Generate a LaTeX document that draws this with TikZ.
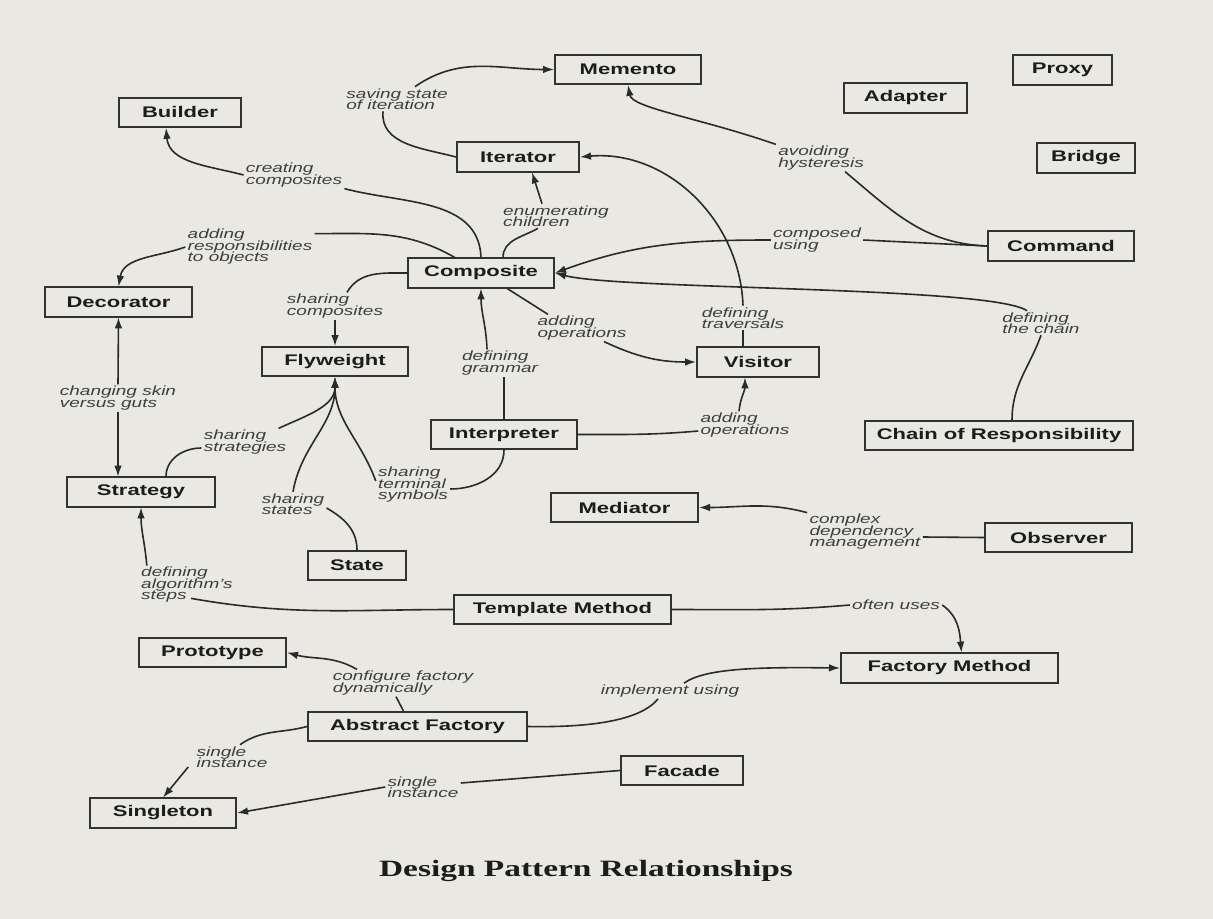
\documentclass[tikz,border=0pt]{standalone}
\usepackage{fontspec}
\usepackage{xcolor}
\usepackage{tikz}
\setmainfont{Liberation Sans}
\newfontfamily\titlefont{Liberation Serif}
\usetikzlibrary{arrows.meta,positioning,calc}

\definecolor{paper}{RGB}{233,232,227}
\definecolor{ink}{RGB}{28,28,28}
\definecolor{boxline}{RGB}{50,50,50}
\definecolor{linkline}{RGB}{42,42,42}
\definecolor{labink}{RGB}{62,62,62}

\tikzset{
  patbox/.style={draw=boxline, line width=1pt, minimum width=72.5pt, minimum height=21pt,
    inner sep=0pt, text=ink, font=\fontsize{11}{13}\selectfont\bfseries,
    yscale=0.7, transform shape},
  rellabel/.style={text=labink, align=left, inner sep=1pt,
    font=\fontsize{9.5}{8.2}\selectfont\itshape,
    execute at begin node={\lineskiplimit=-20pt},
    yscale=0.7, transform shape},
  conn/.style={draw=linkline, line width=0.8pt},
  connarrow/.style={conn, -{Latex[length=5.5pt,width=3.8pt]}},
}

\begin{document}
\begin{tikzpicture}[x=0.5pt, y=-0.5pt]
    % Paper
    \fill[paper] (0,0) rectangle (1213,919);

    % Pattern boxes
    \node[patbox, minimum width=73pt] (memento) at (628,69.5) {Memento};
    \node[patbox, minimum width=49.5pt] (proxy) at (1062.5,70) {Proxy};
    \node[patbox, minimum width=61.5pt] (adapter) at (905.5,98) {Adapter};
    \node[patbox, minimum width=61pt] (builder) at (180,112.5) {Builder};
    \node[patbox, minimum width=61pt] (iterator) at (518,157) {Iterator};
    \node[patbox, minimum width=49pt] (bridge) at (1086,158) {Bridge};
    \node[patbox, minimum width=73pt] (command) at (1061,246) {Command};
    \node[patbox, minimum width=73pt] (composite) at (481,273) {Composite};
    \node[patbox, minimum width=73.5pt] (decorator) at (118.5,302) {Decorator};
    \node[patbox, minimum width=73pt] (flyweight) at (335,361.5) {Flyweight};
    \node[patbox, minimum width=61pt] (visitor) at (758,362) {Visitor};
    \node[patbox, minimum width=73pt] (interpreter) at (504,434.5) {Interpreter};
    \node[patbox, minimum width=134pt] (chain) at (999,435.5) {Chain of Responsibility};
    \node[patbox, minimum width=74pt] (strategy) at (141,492) {Strategy};
    \node[patbox, minimum width=73.5pt] (mediator) at (624.5,507.5) {Mediator};
    \node[patbox, minimum width=73.5pt] (observer) at (1058.5,537.5) {Observer};
    \node[patbox, minimum width=49pt] (state) at (357,565.5) {State};
    \node[patbox, minimum width=108.5pt] (template) at (562.5,609.5) {Template Method};
    \node[patbox, minimum width=73.5pt] (prototype) at (212.5,652.5) {Prototype};
    \node[patbox, minimum width=108.5pt] (factory) at (949.5,668) {Factory Method};
    \node[patbox, minimum width=109.5pt] (abstract) at (417.5,726.5) {Abstract Factory};
    \node[patbox, minimum width=61pt] (facade) at (682,770.5) {Facade};
    \node[patbox, minimum width=73pt] (singleton) at (163,813) {Singleton};

    % Relationship labels
    \node[rellabel] (saving) at (397,99) {saving state\\of iteration};
    \node[rellabel] (creating) at (294,175) {creating\\composites};
    \node[rellabel] (addresp) at (250,247) {adding\\responsibilities\\to objects};
    \node[rellabel] (enum) at (556,216) {enumerating\\children};
    \node[rellabel] (traversals) at (743,318) {defining\\traversals};
    \node[rellabel] (hysteresis) at (821,158) {avoiding\\hysteresis};
    \node[rellabel] (composed) at (817,240) {composed\\using};
    \node[rellabel] (thechain) at (1041,323) {defining\\the chain};
    \node[rellabel] (sharecomp) at (335,306) {sharing\\composites};
    \node[rellabel] (addops) at (582,328) {adding\\operations};
    \node[rellabel] (grammar) at (500,363) {defining\\grammar};
    \node[rellabel] (addops2) at (745,425) {adding\\operations};
    \node[rellabel] (terminal) at (413,485) {sharing\\terminal\\symbols};
    \node[rellabel] (strategies) at (245,442) {sharing\\strategies};
    \node[rellabel] (states) at (293,504) {sharing\\states};
    \node[rellabel] (skin) at (118,398) {changing skin\\versus guts};
    \node[rellabel] (algo) at (187,585) {defining\\algorithm's\\steps};
    \node[rellabel] (often) at (896,605) {often uses};
    \node[rellabel] (configure) at (403,683) {configure factory\\dynamically};
    \node[rellabel] (implement) at (670,691) {implement using};
    \node[rellabel] (single1) at (232,757) {single\\instance};
    \node[rellabel] (single2) at (423,787) {single\\instance};
    \node[rellabel] (complex) at (865,532) {complex\\dependency\\management};

    % Top: Memento, Builder, Decorator, Iterator
    \draw[conn] (iterator.west) to[out=165, in=-95] ([xshift=-7pt]saving.south);
    \draw[connarrow] ([xshift=9pt]saving.north) to[out=35, in=180] (memento.west);
    \draw[conn] (composite.north) to[out=92, in=-15] (creating.south east);
    \draw[connarrow] (creating.west) to[out=165, in=-85] ([xshift=-7pt]builder.south);
    \draw[conn] ([xshift=-13pt]composite.north) to[out=150, in=0] ([yshift=-3pt]addresp.north east);
    \draw[connarrow] (addresp.west) to[out=200, in=80] (decorator.north);
    \draw[conn] ([xshift=11pt]composite.north) to[out=90, in=-150] ([xshift=-9pt]enum.south);
    \draw[connarrow] ([xshift=-7pt]enum.north) -- ([xshift=7pt]iterator.south);
    \draw[conn] (traversals.south |- visitor.north) -- (traversals.south);
    \draw[connarrow] (traversals.north) to[out=92, in=5] (iterator.east);

    % Command and Chain of Responsibility
    \draw[conn] (command.west) to[out=178, in=-40] ([xshift=12pt]hysteresis.south);
    \draw[connarrow] (hysteresis.north west) .. controls (700,118) and (632,108) .. (memento.south);
    \draw[conn] (command.west) -- (composed.east);
    \draw[connarrow] (composed.west) to[out=180, in=20] (composite.east);
    \draw[conn] ([xshift=6.5pt]chain.north) to[out=90, in=-110] (thechain.south);
    \draw[connarrow] ([xshift=-7pt]thechain.north) .. controls (990,286) and (620,290) .. (composite.east);

    % Composite, Flyweight, Visitor, Interpreter
    \draw[conn] (composite.west) to[out=180, in=60] ([xshift=6pt]sharecomp.north);
    \draw[connarrow] (sharecomp.south) -- (flyweight.north);
    \draw[conn] ([xshift=13pt]composite.south) -- ([xshift=-17pt]addops.north);
    \draw[connarrow] ([xshift=11pt]addops.south) to[out=-25, in=180] (visitor.west);
    \draw[conn] (interpreter.north) -- (interpreter.north |- grammar.south);
    \draw[connarrow] ([xshift=-6.5pt]grammar.north) to[out=92, in=-90] (composite.south);
    \draw[conn] (interpreter.east) to[out=0, in=185] ([yshift=-3pt]addops2.west);
    \draw[connarrow] ([xshift=-3pt]addops2.north) to[out=85, in=-90] ([xshift=-6.5pt]visitor.south);
    \draw[conn] (interpreter.south) to[out=-90, in=0] ([yshift=-2pt]terminal.east);
    \draw[connarrow] ([yshift=2pt]terminal.west) to[out=110, in=-90] (flyweight.south);
    \draw[conn] ([xshift=12.5pt]strategy.north) to[out=90, in=180] ([yshift=-3pt]strategies.west);
    \draw[connarrow] ([xshift=-5pt]strategies.north east) to[out=25, in=-90] (flyweight.south);
    \draw[conn] (state.north) to[out=90, in=-30] ([yshift=-2pt]states.east);
    \draw[connarrow] (states.north) to[out=80, in=-90] (flyweight.south);

    % Decorator / Strategy / Template Method
    \draw[connarrow] (skin.north) -- (decorator.south);
    \draw[connarrow] (skin.south) -- (skin.south |- strategy.north);
    \draw[conn] (template.west) to[out=180, in=-10] ([xshift=2pt, yshift=3pt]algo.south);
    \draw[connarrow] ([xshift=4pt]algo.north west) to[out=95, in=-90] (strategy.south);
    \draw[conn] (template.east) to[out=0, in=185] (often.west);
    \draw[connarrow] (often.east) to[out=-35, in=95] ([xshift=6pt]factory.north);

    % Observer / Mediator
    \draw[conn] (observer.west) -- ([yshift=-2.5pt]complex.east);
    \draw[connarrow] (complex.north west) to[out=165, in=0] (mediator.east);

    % Creational patterns
    \draw[conn] ([xshift=-7pt]abstract.north) -- ([xshift=-3.5pt]configure.south);
    \draw[connarrow] ([xshift=-23pt]configure.north) to[out=150, in=-15] (prototype.east);
    \draw[conn] (abstract.east) .. controls (610,728) and (645,715) .. ([xshift=-6pt]implement.south);
    \draw[connarrow] ([xshift=7pt]implement.north) .. controls (705,668) and (760,667) .. (factory.west);
    \draw[conn] (abstract.west) to[out=195, in=35] ([xshift=4pt]single1.north);
    \draw[connarrow] ([xshift=-3pt, yshift=-5pt]single1.west) -- (singleton.north);
    \draw[conn] (facade.west) -- ([yshift=2pt]single2.east);
    \draw[connarrow] (single2.west) -- (singleton.east);

    % Caption
    \node[font=\titlefont\bfseries\fontsize{16.7}{18}\selectfont, text=ink, yscale=0.7, transform shape] (title) at (586,871) {Design Pattern Relationships};
\end{tikzpicture}
\end{document}
